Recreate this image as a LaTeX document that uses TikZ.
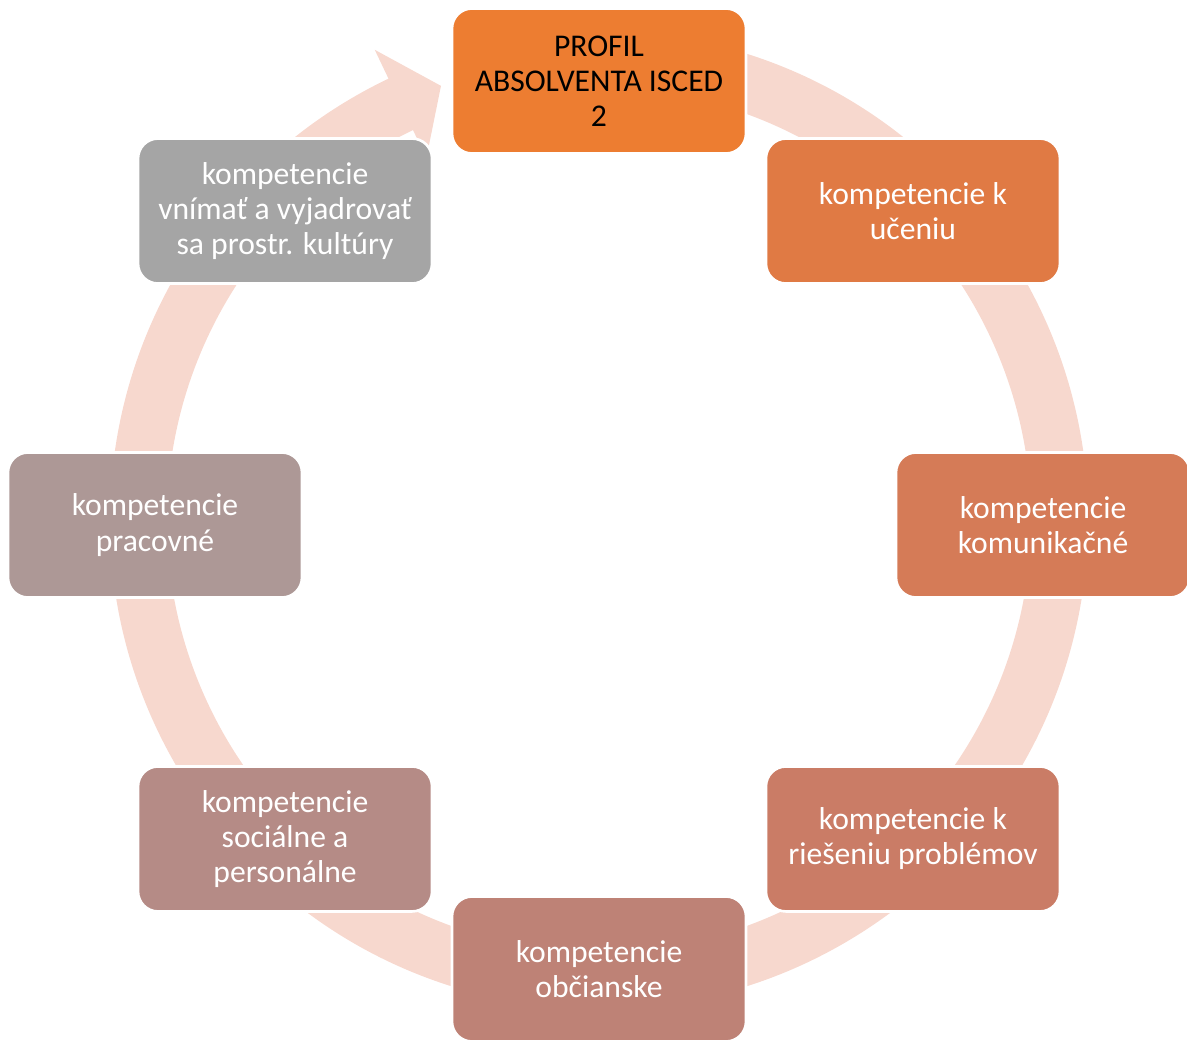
\documentclass[tikz,border=0pt]{standalone}
\usepackage{fontspec}
\setmainfont{Carlito}

\definecolor{profilorange}{HTML}{ED7D31}
\definecolor{ucenieclr}{HTML}{E07A44}
\definecolor{komunikclr}{HTML}{D57B57}
\definecolor{problemclr}{HTML}{CA7C66}
\definecolor{obcanclr}{HTML}{BE8276}
\definecolor{socialclr}{HTML}{B58B86}
\definecolor{pracovclr}{HTML}{AD9896}
\definecolor{kulturagray}{HTML}{A5A5A5}
\definecolor{ringpink}{RGB}{247,216,206}

\begin{document}
\begin{tikzpicture}
		\tikzstyle{profilbox} = [rectangle, rounded corners=0.4cm, draw=white, line width=1.5pt, minimum width=5.88cm, minimum height=2.9cm, inner sep=0pt, align=center, font=\fontsize{18}{20}\selectfont]
		\tikzstyle{compbox} = [profilbox, text=white]
		\useasboundingbox (-11.98,-10.28) rectangle (11.76,10.5);
		% kruhova sipka v pozadi
		\fill[ringpink, shift={(0,0.1)}] (80:9.78) arc[start angle=80, end angle=-244.5, radius=9.78]
			-- (115.5:10.42) -- (110:9.24) -- (115.5:8.02) -- (115.5:8.64)
			arc[start angle=-244.5, end angle=80, radius=8.64] -- cycle;
		\node[profilbox, fill=profilorange] (profil) at (90:8.88) {PROFIL\\ABSOLVENTA ISCED\\2};
		\foreach \name/\angle/\clr/\txt in {ucenie/45/ucenieclr/{kompetencie k\\učeniu}, komunikacia/0/komunikclr/{kompetencie\\komunikačné}, problemy/-45/problemclr/{kompetencie k\\riešeniu problémov}, obcianske/-90/obcanclr/{kompetencie\\občianske}, socialne/-135/socialclr/{kompetencie\\sociálne a\\personálne}, pracovne/180/pracovclr/{kompetencie\\pracovné}, kultura/135/kulturagray/{kompetencie\\vnímať a vyjadrovať\\sa prostr. kultúry}}
		{
			\node[compbox, fill=\clr] (\name) at (\angle:8.88) {\txt};
		}
\end{tikzpicture}
\end{document}
